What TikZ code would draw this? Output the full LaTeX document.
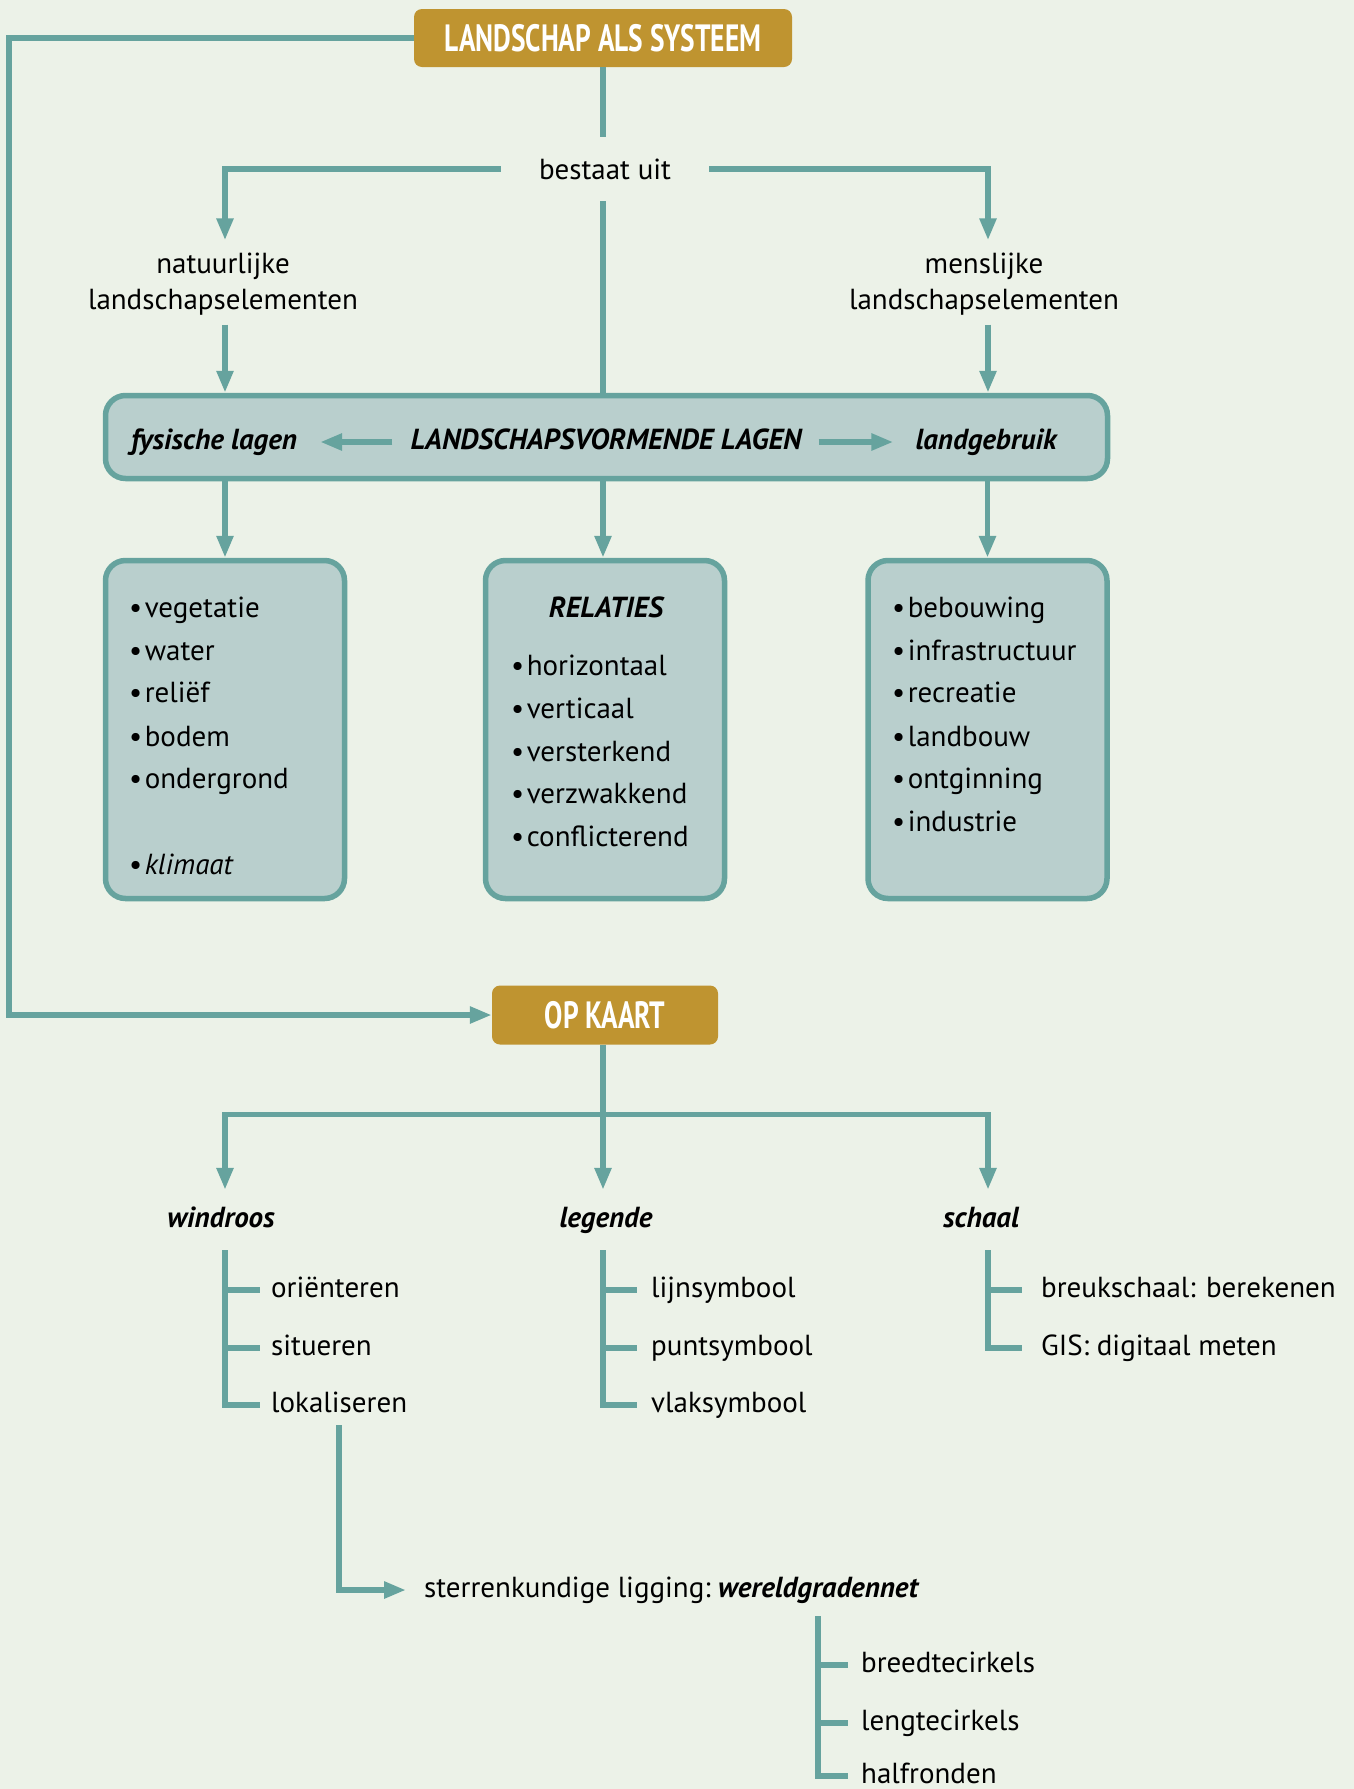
\documentclass[tikz,border=0pt]{standalone}
\usepackage{fontspec}
\setmainfont{PT Sans}
\newfontfamily\condfont{PT Sans}[FakeStretch=0.72]
\usetikzlibrary{arrows.meta}
\definecolor{bgc}{HTML}{ECF2E8}
\definecolor{tealc}{HTML}{66A39E}
\definecolor{boxc}{HTML}{B9CFCD}
\definecolor{goldc}{HTML}{BF9430}
\newcommand\bfnt{\fontsize{29}{36}\selectfont}
\newcommand\bul{•\hspace{2.5pt}}
\tikzset{
  line/.style={draw=tealc, line width=5.5pt},
  arr/.style={line, -{Triangle[width=16pt,length=22pt]}},
  goldbox/.style={fill=goldc, rounded corners=8pt, text=white, inner sep=0pt,
    font=\condfont\bfseries\fontsize{38}{40}\selectfont},
  box/.style={draw=tealc, line width=5.5pt, fill=boxc, rounded corners=20pt},
  txt/.style={font=\bfnt, inner sep=0pt},
  item/.style={txt, anchor=west, text height=21pt, text depth=7pt},
  lbl/.style={txt, font=\bfnt\bfseries\itshape, text height=21pt, text depth=7pt},
  head/.style={lbl, inner ysep=16pt}
}
\begin{document}
\begin{tikzpicture}[x=1pt,y=-1pt]
\fill[bgc] (0,0) rectangle (1354,1789);
\useasboundingbox (0,0) rectangle (1354,1789);

% top part
\node[goldbox, minimum width=378pt, minimum height=58pt] (title) at (603,38) {LANDSCHAP ALS SYSTEEM};
\node[txt, minimum height=64pt, inner xsep=38pt] (bestaat) at (605,169) {bestaat uit};
\node[txt, align=center, minimum height=81pt] (nat) at (223,284) {natuurlijke\\landschapselementen};
\node[txt, align=center, minimum height=81pt] (mens) at (984,284) {menslijke\\landschapselementen};

\node[box, minimum width=1002pt, minimum height=83pt] (lagen) at (606.5,437) {};
\node[lbl] (fys) at (214,442) {fysische lagen};
\node[lbl] (lv) at (606,442) {LANDSCHAPSVORMENDE LAGEN};
\node[lbl] (lg) at (986,442) {landgebruik};

\node[box, minimum width=239pt, minimum height=338pt] (phys) at (225,729.5) {};
\node[box, minimum width=239pt, minimum height=338pt] (rel) at (605,729.5) {};
\node[box, minimum width=239pt, minimum height=338pt] (use) at (987.5,729.5) {};

% connectors top
\draw[line] (title.south) -- (title.south |- bestaat.north);
\draw[arr] (bestaat.west) -| ([xshift=2pt,yshift=3pt]nat.north);
\draw[arr] (bestaat.east) -| ([xshift=4pt,yshift=3pt]mens.north);
\draw[line] (title.south |- bestaat.south) -- (title.south |- lagen.north);
\draw[arr] ([xshift=2pt]nat.south) -- ([xshift=2pt]nat.south |- lagen.north);
\draw[arr] ([xshift=4pt]mens.south) -- ([xshift=4pt]mens.south |- lagen.north);
\draw[arr] ([xshift=-18pt]lv.west) -- ([xshift=23pt]fys.east);
\draw[arr] ([xshift=17pt]lv.east) -- ([xshift=-22pt]lg.west);
\draw[arr] (phys.north |- lagen.south) -- (phys.north);
\draw[arr] (title.south |- lagen.south) -- (title.south |- rel.north);
\draw[arr] (use.north |- lagen.south) -- (use.north);

% box contents
\node[item] (p1) at (129,610) {\bul vegetatie};
\node[item] (p2) at (129,653) {\bul water};
\node[item] (p3) at (129,695) {\bul reliëf};
\node[item] (p4) at (129,739) {\bul bodem};
\node[item] (p5) at (129,781) {\bul ondergrond};
\node[item] (p6) at (129,867) {\bul \textit{klimaat}};

\node[lbl] (relh) at (606,610) {RELATIES};
\node[item] (r1) at (511,668) {\bul horizontaal};
\node[item] (r2) at (511,711) {\bul verticaal};
\node[item] (r3) at (511,754) {\bul versterkend};
\node[item] (r4) at (511,796) {\bul verzwakkend};
\node[item] (r5) at (511,839) {\bul conflicterend};

\node[item] (u1) at (892,610) {\bul bebouwing};
\node[item] (u2) at (892,653) {\bul infrastructuur};
\node[item] (u3) at (892,695) {\bul recreatie};
\node[item] (u4) at (892,739) {\bul landbouw};
\node[item] (u5) at (892,781) {\bul ontginning};
\node[item] (u6) at (892,824) {\bul industrie};

% OP KAART
\node[goldbox, minimum width=226pt, minimum height=59pt] (op) at (605,1015) {OP KAART};
\coordinate (lc1) at (9,38);
\coordinate (lc2) at (9,1015);
\draw[arr] (title.west) -- (lc1) -- (lc2) -- (op.west);

\node[head] (wind) at (221,1220) {windroos};
\node[head] (leg) at (606,1220) {legende};
\node[head] (sch) at (981,1220) {schaal};

\draw[arr] ([xshift=-2pt]op.south) -- ([xshift=-2pt]op.south |- leg.north);
\draw[arr] ([xshift=-2pt, yshift=-70pt]op.south) -| ([xshift=4pt]wind.north);
\draw[arr] ([xshift=-2pt, yshift=-70pt]op.south) -| ([xshift=7pt]sch.north);

% windroos tree
\node[item] (ori) at (271,1290) {oriënteren};
\node[item] (sit) at (271,1348) {situeren};
\node[item] (lok) at (271,1405) {lokaliseren};
\draw[line] ([xshift=4pt]wind.south) |- ([xshift=-11pt]lok.west);
\draw[line] ([xshift=4pt]wind.south |- ori.west) -- ([xshift=-11pt]ori.west);
\draw[line] ([xshift=4pt]wind.south |- sit.west) -- ([xshift=-11pt]sit.west);

% legende tree
\node[item] (lijn) at (651,1290) {lijnsymbool};
\node[item] (punt) at (651,1348) {puntsymbool};
\node[item] (vlak) at (651,1405) {vlaksymbool};
\draw[line] ([xshift=-3pt]leg.south) |- ([xshift=-14pt]vlak.west);
\draw[line] ([xshift=-3pt]leg.south |- lijn.west) -- ([xshift=-14pt]lijn.west);
\draw[line] ([xshift=-3pt]leg.south |- punt.west) -- ([xshift=-14pt]punt.west);

% schaal tree
\node[item] (breuk) at (1041,1290) {breukschaal: berekenen};
\node[item] (gis) at (1041,1348) {GIS: digitaal meten};
\draw[line] ([xshift=7pt]sch.south) |- ([xshift=-19pt]gis.west);
\draw[line] ([xshift=7pt]sch.south |- breuk.west) -- ([xshift=-19pt]breuk.west);

% sterrenkundige ligging
\node[item] (ster) at (424,1590) {sterrenkundige ligging:};
\node[lbl, anchor=base west] (wgn) at ([xshift=7pt]ster.base east) {wereldgradennet};
\draw[arr] ([yshift=-6pt]lok.south) |- ([xshift=-18pt]ster.west);

\node[item] (bc) at (861,1665) {breedtecirkels};
\node[item] (lc) at (861,1723) {lengtecirkels};
\node[item] (hf) at (861,1776) {halfronden};
\draw[line] ([yshift=-12pt]wgn.south) |- ([xshift=-13pt]hf.west);
\draw[line] (wgn.south |- bc.west) -- ([xshift=-13pt]bc.west);
\draw[line] (wgn.south |- lc.west) -- ([xshift=-13pt]lc.west);
\end{tikzpicture}
\end{document}
